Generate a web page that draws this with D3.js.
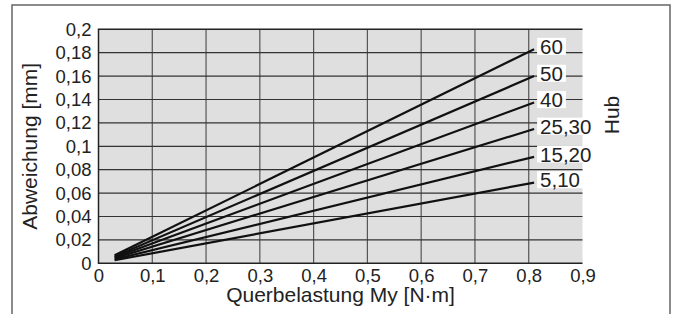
<html>
<head>
<meta charset="utf-8">
<script src="https://d3js.org/d3.v7.min.js"></script>
<style>
  body { margin: 0; background: #fff; }
  text { font-family: "Liberation Sans", Arial, sans-serif; fill: #222; }
</style>
</head>
<body>
<div id="chart"></div>
<script>
// chart data
const hubLabels = ["60", "50", "40", "25,30", "15,20", "5,10"];
const startLoad = 0.03;
const endLoad = 0.81;
const startDev = [0.0068, 0.0059, 0.0051, 0.0043, 0.0034, 0.0026];
const endDev = [0.183, 0.160, 0.1375, 0.1148, 0.091, 0.069];
const xTicks = [0, 0.1, 0.2, 0.3, 0.4, 0.5, 0.6, 0.7, 0.8, 0.9];
const yTicks = [0, 0.02, 0.04, 0.06, 0.08, 0.1, 0.12, 0.14, 0.16, 0.18, 0.2];

const W = 675, H = 314;
const margin = {top: 29.3, right: 92.5, bottom: 50.7, left: 98.5};

const svg = d3.select("#chart").append("svg")
  .attr("width", W).attr("height", H);

// outer frame (open at the bottom)
svg.append("path")
  .attr("d", `M12,${H} V5 H670 V${H}`)
  .attr("fill", "none").attr("stroke", "#666").attr("stroke-width", 1.5);

const x = d3.scaleLinear().domain([0, 0.9]).range([margin.left, W - margin.right]);
const y = d3.scaleLinear().domain([0, 0.2]).range([H - margin.bottom, margin.top]);

const fmt = d => String(+d.toFixed(2)).replace(".", ",");

// plot background
svg.append("rect")
  .attr("x", x(0)).attr("y", y(0.2))
  .attr("width", x(0.9) - x(0)).attr("height", y(0) - y(0.2))
  .attr("fill", "#dfdfe0");

// grid
svg.append("g")
  .selectAll("line").data(xTicks.slice(1, -1)).join("line")
  .attr("x1", d => x(d)).attr("x2", d => x(d))
  .attr("y1", y(0)).attr("y2", y(0.2))
  .attr("stroke", "#555").attr("stroke-width", 1.2);

svg.append("g")
  .selectAll("line").data(yTicks.slice(1, -1)).join("line")
  .attr("x1", x(0)).attr("x2", x(0.9))
  .attr("y1", d => y(d)).attr("y2", d => y(d))
  .attr("stroke", "#333").attr("stroke-width", 1.2);

// borders: top, left, bottom
svg.append("path")
  .attr("d", `M${x(0.9)},${y(0.2)} H${x(0)} V${y(0)} H${x(0.9)}`)
  .attr("fill", "none").attr("stroke", "#222").attr("stroke-width", 1.5);

// axes (labels only)
const xAxis = svg.append("g")
  .attr("transform", `translate(0,${y(0)})`)
  .call(d3.axisBottom(x).tickValues(xTicks).tickFormat(fmt).tickSize(0).tickPadding(6));
xAxis.select(".domain").remove();
xAxis.selectAll("text").style("font-size", "18.5px").attr("fill", "#222")
  .style("font-family", "'Liberation Sans', Arial, sans-serif");

const yAxis = svg.append("g")
  .attr("transform", `translate(${x(0)},0)`)
  .call(d3.axisLeft(y).tickValues(yTicks).tickFormat(fmt).tickSize(0).tickPadding(7));
yAxis.select(".domain").remove();
yAxis.selectAll("text").style("font-size", "18.5px").attr("fill", "#222")
  .style("font-family", "'Liberation Sans', Arial, sans-serif");

// lines
const series = hubLabels.map((h, i) => ({
  hub: h,
  pts: [[startLoad, startDev[i]], [endLoad, endDev[i]]]
}));

svg.append("g")
  .selectAll("path").data(series).join("path")
  .attr("d", d => d3.line().x(p => x(p[0])).y(p => y(p[1]))(d.pts))
  .attr("fill", "none").attr("stroke", "#111").attr("stroke-width", 2.2);

// hub labels with white background
const lab = svg.append("g").selectAll("g").data(series).join("g");
lab.append("rect").attr("fill", "#fff");
lab.append("text")
  .attr("x", x(endLoad) + 6)
  .attr("y", d => y(d.pts[1][1]) - 2.5)
  .attr("dy", "0.35em")
  .style("font-size", "20.5px")
  .text(d => d.hub);
lab.each(function() {
  const g = d3.select(this);
  const b = g.select("text").node().getBBox();
  g.select("rect")
    .attr("x", b.x - 3).attr("y", b.y + 3)
    .attr("width", b.width + 6).attr("height", b.height - 6);
});

// axis titles
svg.append("text")
  .attr("x", (x(0) + x(0.9)) / 2).attr("y", 302)
  .attr("text-anchor", "middle").style("font-size", "21px")
  .text("Querbelastung My [N·m]");

svg.append("text")
  .attr("transform", `translate(37,${(y(0) + y(0.2)) / 2}) rotate(-90)`)
  .attr("text-anchor", "middle").style("font-size", "21px")
  .text("Abweichung [mm]");

svg.append("text")
  .attr("transform", `translate(619,115) rotate(-90)`)
  .attr("text-anchor", "middle").style("font-size", "21px")
  .text("Hub");
</script>
</body>
</html>
